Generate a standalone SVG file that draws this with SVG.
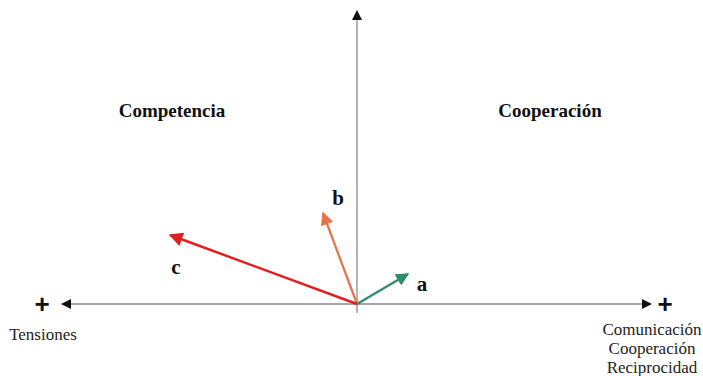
<svg xmlns="http://www.w3.org/2000/svg" width="703" height="376" viewBox="0 0 703 376">
<style>
.ax{stroke:#8a8a8a;stroke-width:1.3;fill:none}
.lbl{font-family:"Liberation Serif",serif;font-weight:bold;fill:#111}
.txt{font-family:"Liberation Serif",serif;fill:#222;font-size:17px}
.plus{font-family:"Liberation Sans",sans-serif;font-size:26px;font-weight:bold;fill:#111}
</style>
<defs>
<marker id="ak" viewBox="0 0 10 10" refX="9" refY="5" markerWidth="10" markerHeight="10" markerUnits="userSpaceOnUse" orient="auto"><path d="M0,0 L10,5 L0,10 z" fill="#111"/></marker>
<marker id="ag" viewBox="0 0 10 10" refX="9" refY="5" markerWidth="13" markerHeight="13" markerUnits="userSpaceOnUse" orient="auto"><path d="M0,0 L10,5 L0,10 z" fill="#2e8b6b"/></marker>
<marker id="ao" viewBox="0 0 10 10" refX="9" refY="5" markerWidth="13" markerHeight="13" markerUnits="userSpaceOnUse" orient="auto"><path d="M0,0 L10,5 L0,10 z" fill="#e8714c"/></marker>
<marker id="ar" viewBox="0 0 10 10" refX="9" refY="5" markerWidth="14" markerHeight="14" markerUnits="userSpaceOnUse" orient="auto"><path d="M0,0 L10,5 L0,10 z" fill="#e02020"/></marker>
</defs>
<g id="connectors">
<line class="ax" x1="357" y1="313" x2="357" y2="11" marker-end="url(#ak)"/>
<line class="ax" x1="357" y1="304" x2="62" y2="304" marker-end="url(#ak)"/>
<line class="ax" x1="357" y1="304" x2="651" y2="304" marker-end="url(#ak)"/>
<line x1="357" y1="304" x2="408" y2="274" stroke="#2e8b6b" stroke-width="2.2" marker-end="url(#ag)"/>
<line x1="357" y1="304" x2="323" y2="213" stroke="#e8714c" stroke-width="2.2" marker-end="url(#ao)"/>
<line x1="357" y1="304" x2="170" y2="235" stroke="#e02020" stroke-width="2.5" marker-end="url(#ar)"/>
</g>
<g id="competencia"><text class="lbl" x="172" y="117" font-size="19" text-anchor="middle">Competencia</text></g>
<g id="cooperacion"><text class="lbl" x="550" y="117" font-size="19" text-anchor="middle">Cooperación</text></g>
<g id="label-a"><text class="lbl" x="422" y="291" font-size="21" text-anchor="middle">a</text></g>
<g id="label-b"><text class="lbl" x="338" y="205" font-size="21" text-anchor="middle">b</text></g>
<g id="label-c"><text class="lbl" x="176" y="274" font-size="21" text-anchor="middle">c</text></g>
<g id="tensiones">
<text class="plus" x="42" y="313" text-anchor="middle">+</text>
<text class="txt" x="43" y="340" text-anchor="middle">Tensiones</text>
</g>
<g id="positivo">
<text class="plus" x="665" y="313" text-anchor="middle">+</text>
<text class="txt" x="652" y="335" text-anchor="middle">Comunicación</text>
<text class="txt" x="652" y="354" text-anchor="middle">Cooperación</text>
<text class="txt" x="652" y="373" text-anchor="middle">Reciprocidad</text>
</g>
</svg>
